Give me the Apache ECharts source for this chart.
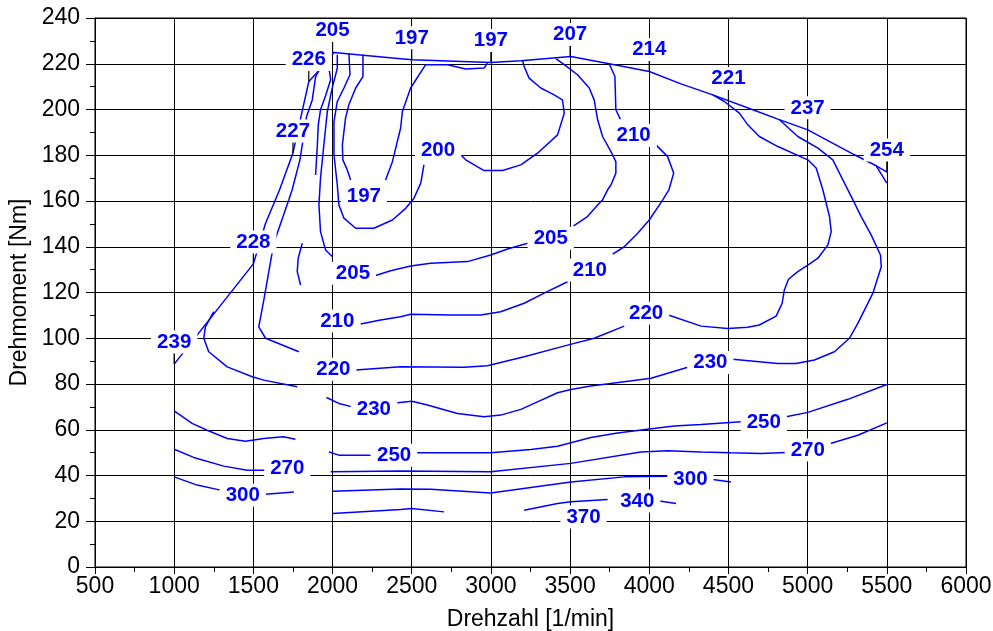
<!DOCTYPE html>
<html><head><meta charset="utf-8">
<script src="https://cdn.jsdelivr.net/npm/echarts@6/dist/echarts.min.js"></script>
<style>html,body{margin:0;padding:0;background:#fff}#c{width:993px;height:631px}</style>
</head><body><div id="c"></div>
<script>
// ---- data (rpm, torque Nm) ----
const fullLoad = [[1000,88.7],[1500,132.5],[1577,150.3],[1665,164.8],[1750,181],[1801,197],[1850,212.2],[1914,217],[1967,221.6],[2008,224.9],[2430,222.2],[2504,221.7],[2999,220.5],[3189,221.3],[3505,223.2],[3747,220],[4000,216.6],[4200,211.2],[4401,206.4],[4654,199.9],[4812,195.8],[5001,191.1],[5296,180.2],[5433,175.4],[5507,172.4]];
const fullLoadMarkRpm = [1000,1500,1750,1850,2000,2500,3000,3500,4000,4500,5000,5500];
const fullLoadMarkTorque = [88.7,132.5,181,212.2,224.9,221.7,220.5,223.2,216.6,203.9,191.1,172.7];
const fullLoadMarkValue = [239,228,227,226,205,197,197,207,214,221,237,254];

const iso197 = [
 [[2192,223.9],[2192,214.4],[2146,209.4],[2103,202.1],[2082,196.2],[2062,184.5],[2065,178.0],[2093,173.6],[2114,169.2]],
 [[2335,169.2],[2378,177.2],[2430,191.9],[2441,199.1],[2493,209.4],[2588,219.6],[2615,219.6],[2726,219.6],[2841,217.7],[2957,218.1],[2978,220.3]]
];
const iso200 = [
 [[2103,224.7],[2110,215.2],[2072,209.4],[2030,203.5],[2009,194.7],[2009,180.2],[2030,167.0],[2040,158.3],[2072,152.5],[2146,148.1],[2261,148.1],[2378,151.7],[2462,156.8],[2514,161.2],[2557,167.8],[2577,175.8]],
 [[2814,179.9],[2841,178.0],[2957,173.3],[3073,173.3],[3189,175.8],[3294,180.9],[3421,188.9],[3463,198.4],[3452,204.2],[3399,206.4],[3315,209.4],[3241,213.7],[3210,218.8],[3200,221.3]]
];
const iso205 = [
 [[2030,223.9],[2030,218.1],[1998,209.4],[1967,199.1],[1945,184.5],[1924,170.0],[1914,158.3],[1924,146.6],[1956,138.6],[1998,135.7]],
 [[2272,127.4],[2367,129.5],[2493,131.6],[2620,132.8],[2852,133.5],[2999,136.4],[3105,139.0],[3231,141.5]],
 [[3522,149.1],[3610,153.2],[3684,159.0],[3705,160.5],[3737,164.9],[3758,167.0],[3789,172.2],[3789,177.2],[3758,181.6],[3705,188.2],[3674,195.5],[3652,204.2],[3621,209.4],[3547,215.2],[3463,219.6],[3410,222.2]]
];
const iso210 = [
 [[1971,221.0],[1988,213.0],[1956,206.0],[1924,199.9],[1910,193.3],[1904,184.5],[1893,171.4]],
 [[1809,141.5],[1783,135.0],[1777,129.1],[1798,123.3]],
 [[2177,106.2],[2304,108.0],[2430,109.4],[2493,110.5],[2746,110.2],[2936,110.2],[3062,111.6],[3210,115.3],[3336,119.7],[3484,124.7]],
 [[3769,136.8],[3842,140.0],[3927,145.9],[4000,151.7],[4085,160.5],[4124,164.9],[4154,172.2],[4116,179.4],[4047,184.2]],
 [[3817,195.8],[3789,199.9],[3783,214.4],[3747,220.0]]
];
const iso220 = [
 [[1914,217.1],[1893,214.4],[1872,204.2],[1836,196.9],[1812,186.0],[1794,178.0],[1745,164.9],[1724,160.5],[1629,141.5],[1566,116.7],[1534,105.0],[1577,100.0],[1787,94.1]],
 [[2146,86.1],[2430,87.5],[2830,87.3],[2978,88.0],[3210,91.9],[3484,97.0],[3652,100.0],[3842,105.3]],
 [[4120,110.2],[4327,105.3],[4496,104.3],[4622,104.8],[4695,105.8],[4801,109.7],[4839,115.3],[4853,121.1],[4879,125.8],[4938,129.1],[5001,132.0],[5065,135.0],[5128,140.8],[5149,146.6],[5138,153.2],[5096,164.9],[5054,174.4],[5001,178.0],[4812,183.8],[4695,188.2],[4622,193.3],[4569,198.4],[4474,203.5],[4401,206.4]]
];
const iso230 = [
 [[1250,111.6],[1197,105.0],[1187,100.0],[1218,94.1],[1335,87.5],[1493,83.2],[1566,81.7],[1777,78.8]],
 [[1962,74.1],[2040,71.5],[2125,70.0]],
 [[2409,71.8],[2500,72.5],[2599,70.8],[2789,67.1],[2957,65.7],[3062,66.4],[3189,68.9],[3294,72.2],[3421,76.2],[3505,77.6],[3631,79.1],[3842,81.0],[4011,82.5],[4243,87.3]],
 [[4527,90.8],[4812,89.0],[4927,89.0],[5043,90.5],[5169,94.1],[5264,100.0],[5317,106.5],[5412,119.7],[5465,131.3],[5460,136.4],[5401,145.2],[5338,153.2],[5286,160.5],[5254,164.9],[5159,178.0],[5065,183.1],[4938,188.2],[4822,195.5]]
];
const iso250 = [
 [[1000,68.3],[1113,62.8],[1208,59.8],[1335,56.2],[1450,55.0],[1566,56.2],[1689,56.9],[1766,55.8]],
 [[1977,50.3],[2040,48.9],[2240,48.9]],
 [[2525,49.9],[2999,49.9],[3252,51.4],[3421,52.8],[3505,54.3],[3631,56.6],[3800,58.6],[4000,60.3],[4158,61.6],[4327,62.3],[4580,63.5]],
 [[4864,65.7],[5001,67.6],[5254,73.3],[5500,79.8]]
];
const iso270 = [
 [[1000,51.5],[1123,47.9],[1313,44.1],[1461,42.3],[1577,42.3]],
 [[1988,41.6],[2430,42.0],[2999,41.6],[3505,45.3],[3947,50.3],[4116,50.8],[4327,50.3],[4516,49.9],[4706,49.6],[4864,50.1]],
 [[5144,54.0],[5317,57.6],[5500,63.0]]
];
const iso300 = [
 [[1000,39.4],[1145,35.8],[1292,33.6]],
 [[1577,31.8],[1756,32.8]],
 [[2000,33.1],[2430,34.1],[2620,34.0],[2999,32.4],[3505,37.2],[3842,39.4],[4116,39.7]],
 [[4401,38.3],[4516,37.2]]
];
const iso340 = [
 [[3210,24.8],[3421,27.8],[3505,28.5],[3737,29.5]],
 [[4032,29.2],[4169,27.8]]
];
const iso370 = [
 [[2000,23.4],[2430,25.1],[2500,25.6],[2704,24.1]]
];
const isoEdge = [
 [[5433,175.4],[5500,167.8]]
];
const labelRpm    = [2198,2666,3378,2129,3901,3625,2030,2005,3980,2261,4386,2389,4723,1714,5001,1433,4260,3924,3585];
const labelTorque = [162.2,182.3,143.7,128.4,188.6,129.8,107.5,86.4,110.9,68.9,89.4,48.9,63.2,43.1,51.1,31.4,38.4,28.9,21.9];
const labelText   = ['197','200','205','205','210','210','210','220','220','230','230','250','250','270','270','300','300','340','370'];

const xTicks = {min:500, max:6000, step:500};
const yTicks = {min:0, max:240, step:20};

// ---- chart ----
const FONT = 'Liberation Sans, Arial, Helvetica, sans-serif';
const BLUE = '#0000ff';
const chart = echarts.init(document.getElementById('c'), null, {renderer:'canvas'});
const series = [];
const addLine = (pts) => series.push({type:'line', data:pts, symbol:'none', smooth:false, silent:true, z:2,
  lineStyle:{color:BLUE, width:1.5}});
addLine(fullLoad);
[iso197, iso200, iso205, iso210, iso220, iso230, iso250, iso270, iso300, iso340, iso370, isoEdge].forEach(g => g.forEach(addLine));

const labelStyle = {show:true, position:'inside', color:BLUE, fontWeight:'bold', fontSize:20.5, fontFamily:FONT,
  backgroundColor:'#fff', padding:[1,6], textBorderWidth:0, opacity:1, formatter:p=>String(p.value[2])};

series.push({type:'scatter', silent:true, z:4, symbol:'rect', symbolSize:[1.2,12], symbolOffset:[0,'-50%'],
  itemStyle:{color:'#000', opacity:1}, data:fullLoadMarkRpm.map((r,i)=>[r, fullLoadMarkTorque[i]])});
series.push({type:'scatter', silent:true, z:5, symbol:'circle', symbolSize:1, itemStyle:{color:'rgba(0,0,0,0)', opacity:1},
  label:Object.assign({}, labelStyle, {offset:[0,-22]}),
  data:fullLoadMarkRpm.map((r,i)=>[r, fullLoadMarkTorque[i], fullLoadMarkValue[i]])});
series.push({type:'scatter', silent:true, z:5, symbol:'circle', symbolSize:1, itemStyle:{color:'rgba(0,0,0,0)', opacity:1},
  label:labelStyle,
  data:labelRpm.map((r,i)=>[r, labelTorque[i], labelText[i]])});

const axisCommon = {
  axisLine:{show:true, onZero:false, lineStyle:{color:'#000', width:1}},
  splitLine:{show:true, lineStyle:{color:'#000', width:1}},
  nameTextStyle:{fontSize:23, color:'#000', fontFamily:FONT},
};
chart.setOption({
  animation:false,
  backgroundColor:'#fff',
  grid:{left:95, right:27, top:18, bottom:64, containLabel:false, outerBoundsMode:'none',
    show:true, borderColor:'#000', borderWidth:1},
  xAxis:Object.assign({type:'value', min:xTicks.min, max:xTicks.max, interval:xTicks.step,
    name:'Drehzahl [1/min]', nameLocation:'middle', nameGap:41,
    axisTick:{show:true, length:7, lineStyle:{color:'#000'}},
    minorTick:{show:true, splitNumber:2, length:5, lineStyle:{color:'#000'}},
    axisLabel:{fontSize:23, color:'#000', fontFamily:FONT, margin:8, formatter:v=>String(v)}}, axisCommon),
  yAxis:Object.assign({type:'value', min:yTicks.min, max:yTicks.max, interval:yTicks.step,
    name:'Drehmoment [Nm]', nameLocation:'middle', nameGap:61,
    axisTick:{show:true, length:9, lineStyle:{color:'#000'}},
    minorTick:{show:true, splitNumber:2, length:5, lineStyle:{color:'#000'}},
    axisLabel:{fontSize:23, color:'#000', fontFamily:FONT, margin:15, formatter:v=>String(v)}}, axisCommon),
  series:series
});
</script></body></html>
